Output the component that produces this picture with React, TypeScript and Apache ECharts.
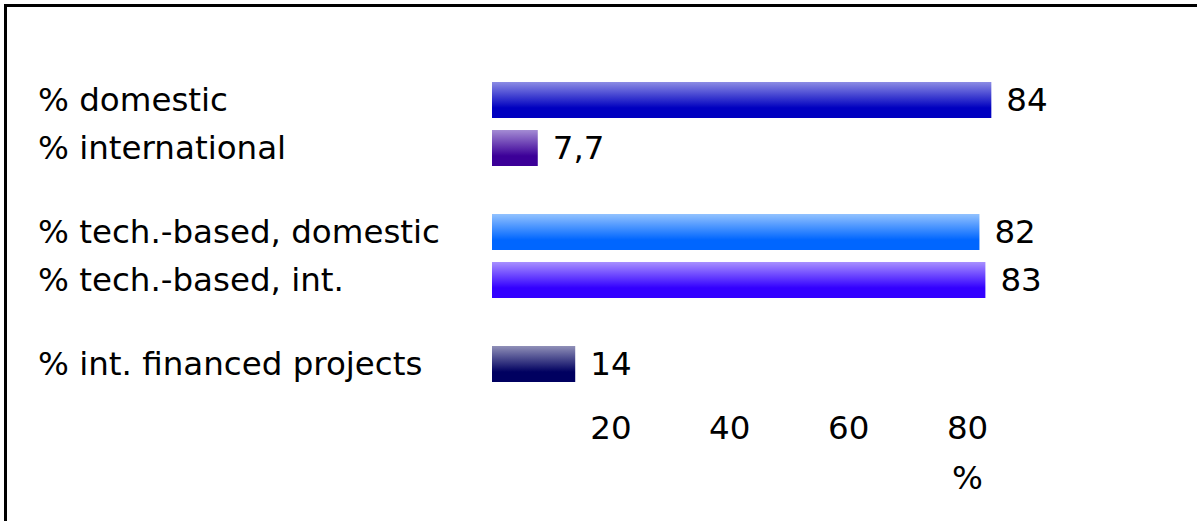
import React, { useEffect, useRef } from "react";
import * as echarts from "echarts";

const categories = [
  "% domestic",
  "% international",
  "% tech.-based, domestic",
  "% tech.-based, int.",
  "% int. financed projects",
];
const values = [84, 7.7, 82, 83, 14];
const groupOf = [0, 0, 1, 1, 2];
const xTicks = [0, 20, 40, 60, 80];
const unitLabel = "%";

const topColors = ["#8c8ce4", "#a48cd4", "#92c2ff", "#a890ff", "#9090b8"];
const bottomColors = ["#0000c0", "#3c0098", "#0066ff", "#3300ff", "#000060"];

const FONT = "DejaVu Sans";
const FS = 32.5;
const GRID_LEFT = 492;
const GRID_WIDTH = 535;
const BAND = 48;
const groupTops = [76, 208, 340];
const X_MAX = 90;

export default function App() {
  const ref = useRef<HTMLDivElement>(null);
  useEffect(() => {
    if (!ref.current) return;
    const chart = echarts.init(ref.current, null, { renderer: "svg" });
    const nGroups = groupTops.length;
    const grids: any[] = [];
    const xAxes: any[] = [];
    const yAxes: any[] = [];
    const series: any[] = [];
    for (let g = 0; g < nGroups; g++) {
      const idx = categories.map((_, i) => i).filter((i) => groupOf[i] === g);
      grids.push({
        left: GRID_LEFT,
        top: groupTops[g],
        width: GRID_WIDTH,
        height: BAND * idx.length,
        containLabel: false,
      });
      const isLast = g === nGroups - 1;
      xAxes.push({
        type: "value",
        gridIndex: g,
        min: 0,
        max: X_MAX,
        interval: 20,
        show: isLast,
        axisLine: { show: false },
        axisTick: { show: false },
        splitLine: { show: false },
        axisLabel: {
          show: isLast,
          margin: 23,
          fontFamily: FONT,
          fontSize: FS,
          color: "#000",
          showMaxLabel: false,
          formatter: (v: number) => (xTicks.includes(v) && v !== 0 ? String(v) : ""),
        },
      });
      yAxes.push({
        type: "category",
        gridIndex: g,
        inverse: true,
        data: idx.map((i) => categories[i]),
        axisLine: { show: false },
        axisTick: { show: false },
        splitLine: { show: false },
        axisLabel: {
          align: "left",
          margin: GRID_LEFT - 38,
          fontFamily: FONT,
          fontSize: FS,
          color: "#000",
        },
      });
      series.push({
        type: "bar",
        xAxisIndex: g,
        yAxisIndex: g,
        barWidth: 36,
        data: idx.map((i) => ({
          value: values[i],
          itemStyle: {
            color: new echarts.graphic.LinearGradient(0, 0, 0, 1, [
              { offset: 0, color: topColors[i] },
              { offset: 0.72, color: bottomColors[i] },
              { offset: 1, color: bottomColors[i] },
            ]),
          },
        })),
        label: {
          show: true,
          position: "right",
          distance: 15,
          fontFamily: FONT,
          fontSize: FS,
          color: "#000",
          formatter: (p: any) => String(p.value).replace(".", ","),
        },
      });
    }
    chart.setOption({
      animation: false,
      backgroundColor: "#fff",
      grid: grids,
      xAxis: xAxes,
      yAxis: yAxes,
      series,
      graphic: [
        {
          type: "rect",
          shape: { x: 5.5, y: 5.5, width: 1400, height: 700 },
          style: { fill: "none", stroke: "#000", lineWidth: 3 },
          z: 10,
        },
        {
          type: "text",
          x: GRID_LEFT + (80 / X_MAX) * GRID_WIDTH,
          y: 478,
          style: {
            text: unitLabel,
            fontFamily: FONT,
            fontSize: FS,
            fill: "#000",
            align: "center",
            verticalAlign: "middle",
          },
        },
      ],
    });
    return () => chart.dispose();
  }, []);
  return (
    <div
      ref={ref}
      style={{ position: "fixed", left: 0, top: 0, width: 1197, height: 521 }}
    />
  );
}
